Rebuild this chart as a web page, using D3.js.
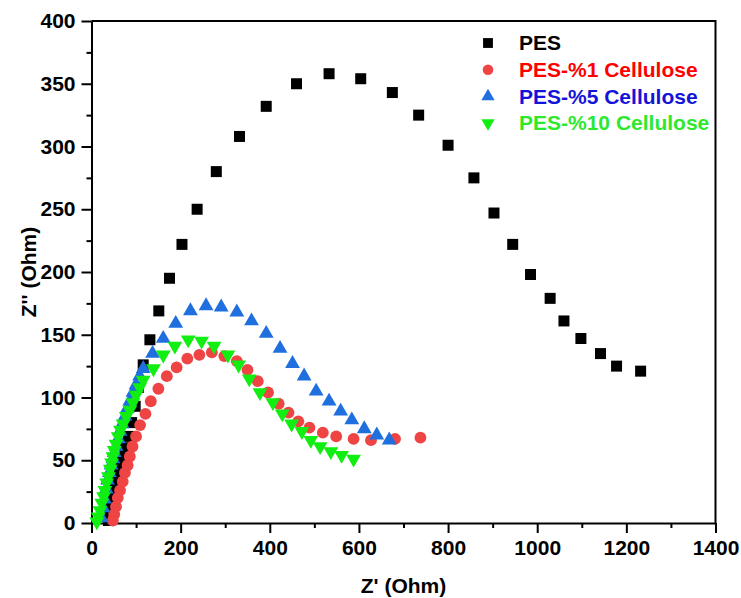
<!DOCTYPE html>
<html>
<head>
<meta charset="utf-8">
<script src="https://cdn.jsdelivr.net/npm/d3@7"></script>
<style>
  body { margin: 0; background: #fff; }
  svg text { font-family: "Liberation Sans", Arial, sans-serif; font-weight: bold; }
</style>
</head>
<body>
<div id="chart"></div>
<script>
// data: [Z', Z'']
const pes = [[38,2],[41,8],[45,14],[49,21],[53,28],[58,36],[63,44],[69,52],[75,60],[83,69],[90,80],[98,93],[105,108],[116,126],[131,146],[151,169],[175,195],[203,222],[237,250],[280,280],[332,308],[392,332],[460,350],[533,358],[604,354],[675,343],[734,325],[800,301],[858,275],[903,247],[945,222],[985,198],[1029,179],[1060,161],[1098,147],[1142,135],[1178,125],[1232,121]];
const cel1 = [[48,2],[51,7],[55,13],[59,20],[64,26],[70,33],[75,40],[81,46],[86,53],[92,61],[100,69],[109,78],[121,87],[133,97],[150,107],[169,117],[191,124],[215,131],[242,134],[270,136],[298,133],[326,129],[350,122],[373,113],[396,104],[420,95],[442,88],[464,81],[489,76],[519,72],[549,69],[588,67],[627,66],[681,67],[738,68]];
const cel5 = [[22,4],[26,12],[29,19],[33,27],[36,34],[40,40],[44,46],[48,51],[51,56],[55,61],[60,67],[64,73],[69,79],[75,85],[80,91],[86,97],[93,104],[100,110],[108,117],[116,123],[137,135],[161,147],[189,159],[222,169],[257,173],[291,172],[326,168],[359,161],[392,151],[423,139],[451,127],[477,117],[504,105],[533,97],[559,89],[584,82],[612,75],[640,70],[668,66]];
const cel10 = [[12,1],[15,5],[19,10],[23,16],[27,21],[30,26],[34,32],[38,37],[42,43],[45,48],[48,53],[51,58],[55,63],[60,69],[65,74],[71,79],[78,85],[86,90],[93,96],[100,102],[108,108],[116,114],[139,123],[161,134],[187,141],[217,146],[247,145],[275,141],[306,134],[330,126],[354,115],[378,104],[407,96],[428,87],[449,79],[472,73],[492,66],[513,61],[537,57],[561,54],[588,51]];

const seriesNames = ["PES", "PES-%1 Cellulose", "PES-%5 Cellulose", "PES-%10 Cellulose"];
const xTicks = [0, 200, 400, 600, 800, 1000, 1200, 1400];
const yTicks = [0, 50, 100, 150, 200, 250, 300, 350, 400];

const width = 741, height = 598;
const margin = { top: 21, right: 25.5, bottom: 75, left: 91.5 };

const svg = d3.select("#chart")
  .append("svg")
  .attr("width", width)
  .attr("height", height);

const x = d3.scaleLinear().domain([0, 1400]).range([margin.left, width - margin.right]);
const y = d3.scaleLinear().domain([0, 400]).range([height - margin.bottom, margin.top]);

// marker look per series
const series = [
  { name: seriesNames[0], data: pes,   shape: d3.symbolSquare,   size: 121, rot: 0,   fill: "#000000", text: "#000000" },
  { name: seriesNames[1], data: cel1,  shape: d3.symbolCircle,   size: 110, rot: 0,   fill: "#ef4444", text: "#ff0000" },
  { name: seriesNames[2], data: cel5,  shape: d3.symbolTriangle, size: 95,  rot: 0,   fill: "#1f6fde", text: "#1414d8" },
  { name: seriesNames[3], data: cel10, shape: d3.symbolTriangle, size: 95,  rot: 180, fill: "#11ee11", text: "#2ee82e" }
];

// minor ticks first, then major axes
svg.append("g")
  .attr("transform", `translate(0,${y(0)})`)
  .call(d3.axisBottom(x).tickValues(d3.range(100, 1400, 200)).tickSize(5).tickFormat(""))
  .call(g => g.select(".domain").remove())
  .call(g => g.selectAll("line").attr("stroke-width", 2));

svg.append("g")
  .attr("transform", `translate(${x(0)},0)`)
  .call(d3.axisLeft(y).tickValues(d3.range(25, 400, 50)).tickSize(5).tickFormat(""))
  .call(g => g.select(".domain").remove())
  .call(g => g.selectAll("line").attr("stroke-width", 2));

const xAxis = svg.append("g")
  .attr("transform", `translate(0,${y(0)})`)
  .call(d3.axisBottom(x).tickValues(xTicks).tickFormat(d3.format("d"))
    .tickSize(10).tickSizeOuter(0).tickPadding(7));
xAxis.selectAll("text").attr("font-size", 21).attr("fill", "#000");

const yAxis = svg.append("g")
  .attr("transform", `translate(${x(0)},0)`)
  .call(d3.axisLeft(y).tickValues(yTicks).tickFormat(d3.format("d"))
    .tickSize(10).tickSizeOuter(0).tickPadding(6));
yAxis.selectAll("text").attr("font-size", 21).attr("fill", "#000");

[xAxis, yAxis].forEach(g => {
  g.select(".domain").attr("stroke-width", 2).attr("stroke", "#000");
  g.selectAll("line").attr("stroke-width", 2).attr("stroke", "#000");
});

// top and right frame
svg.append("path")
  .attr("d", `M${x(0)},${y(400)}H${x(1400)}V${y(0)}`)
  .attr("fill", "none")
  .attr("stroke", "#000")
  .attr("stroke-width", 2);

// points
series.forEach(s => {
  svg.append("g")
    .selectAll("path")
    .data(s.data)
    .enter()
    .append("path")
    .attr("d", d3.symbol().type(s.shape).size(s.size))
    .attr("transform", d => `translate(${x(d[0])},${y(d[1])}) rotate(${s.rot})`)
    .attr("fill", s.fill);
});

// legend
const legend = svg.append("g").attr("transform", "translate(488,43)");
series.forEach((s, i) => {
  const row = legend.append("g").attr("transform", `translate(0,${i * 26.7})`);
  row.append("path")
    .attr("d", d3.symbol().type(s.shape).size(s.size * 0.8))
    .attr("transform", `rotate(${s.rot})`)
    .attr("fill", s.fill);
  row.append("text")
    .attr("x", 31)
    .attr("dy", "0.35em")
    .attr("font-size", 21)
    .attr("fill", s.text)
    .text(s.name);
});

// axis titles
svg.append("text")
  .attr("x", (x(0) + x(1400)) / 2)
  .attr("y", 593)
  .attr("text-anchor", "middle")
  .attr("font-size", 21)
  .text("Z' (Ohm)");

svg.append("text")
  .attr("transform", `translate(36,${(y(0) + y(400)) / 2}) rotate(-90)`)
  .attr("text-anchor", "middle")
  .attr("font-size", 21)
  .text("Z'' (Ohm)");
</script>
</body>
</html>
